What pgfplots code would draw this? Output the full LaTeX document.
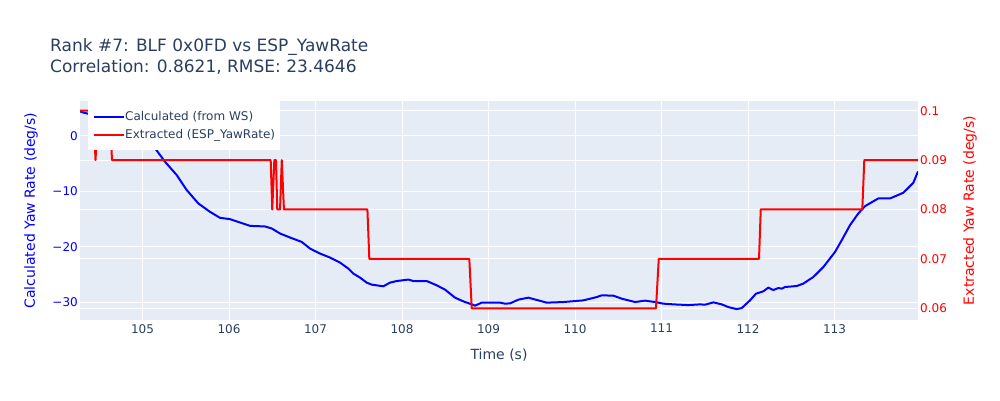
\documentclass[border=0pt]{standalone}
\usepackage{fontspec}
\setmainfont{DejaVu Sans}
\usepackage{xcolor}
\usepackage{pgfplots}
\pgfplotsset{compat=1.18}

\definecolor{textgray}{HTML}{2A3F5F}
\definecolor{plotbg}{HTML}{E5ECF6}

\pgfplotsset{
  base/.style={
    at={(0pt,0pt)}, anchor=south west,
    scale only axis, width=838pt, height=219pt,
    xmin=104.2775, xmax=113.965,
    axis line style={draw=none},
    major tick length=0pt,
    /pgf/number format/assume math mode=true,
    tick label style={font=\fontsize{12}{14}\selectfont},
    clip=true,
  },
  rightax/.style={ymin=0.05763, ymax=0.10196},
  leftax/.style={ymin=-33.2, ymax=6.3},
}

\begin{document}
\begin{tikzpicture}
\path[use as bounding box] (-80pt,-80pt) rectangle (920pt,320pt);

% axis 1: background, x grid, right y grid and labels
\begin{axis}[base, rightax,
  axis background/.style={fill=plotbg},
  xtick={105,106,...,113},
  xticklabel style={text=textgray, inner sep=0pt, anchor=north, yshift=-4pt},
  xlabel={Time (s)},
  every axis x label/.style={at={(axis description cs:0.5,-0.16)}, anchor=center,
    font=\fontsize{14}{16}\selectfont, text=textgray},
  axis y line*=right,
  ytick={0.06,0.07,0.08,0.09,0.1},
  yticklabels={0.06,0.07,0.08,0.09,0.1},
  yticklabel style={text=red, inner sep=0pt, anchor=west, xshift=2pt},
  ylabel={Extracted Yaw Rate (deg/s)},
  every axis y label/.style={at={(axis description cs:1.062,0.5)}, rotate=90, anchor=center,
    font=\fontsize{14}{16}\selectfont, text=red},
  grid=major,
  major grid style={white, line width=1pt},
]
\addplot[draw=none] coordinates {(105,0.08)};
\end{axis}

% axis 2: left y grid, labels and calculated series
\begin{axis}[base, leftax,
  xtick={105,106,...,113}, xticklabels={},
  axis y line*=left,
  ytick={-30,-20,-10,0},
  yticklabels={−30,−20,−10,0},
  yticklabel style={text=blue, inner sep=0pt, anchor=east, xshift=-2pt},
  ylabel={Calculated Yaw Rate (deg/s)},
  every axis y label/.style={at={(axis description cs:-0.0585,0.5)}, rotate=90, anchor=center,
    font=\fontsize{14}{16}\selectfont, text=blue},
  ymajorgrids,
  major grid style={white, line width=1pt},
  extra y ticks={0}, extra y tick labels={},
  extra y tick style={grid style={white, line width=2pt}},
]
\addplot[blue, line width=2pt, line join=round] coordinates {
  (104.277,4.43) (104.32,4.2) (104.4,3.9) (104.55,3.2) (104.7,2.2)
  (104.85,1.0) (105.0,-0.4) (105.145,-2.22) (105.260,-4.65) (105.395,-7.05)
  (105.511,-9.76) (105.645,-12.17) (105.780,-13.69) (105.896,-14.77) (106.012,-15.01)
  (106.127,-15.61) (106.243,-16.22) (106.416,-16.33) (106.494,-16.69) (106.590,-17.60)
  (106.705,-18.32) (106.840,-19.11) (106.936,-20.31) (107.052,-21.21) (107.168,-21.94)
  (107.283,-22.84) (107.379,-23.92) (107.437,-24.83) (107.514,-25.55) (107.592,-26.46)
  (107.650,-26.82) (107.784,-27.12) (107.861,-26.46) (107.939,-26.17) (108.073,-25.91)
  (108.131,-26.17) (108.286,-26.17) (108.401,-26.94) (108.497,-27.72) (108.613,-29.17)
  (108.709,-29.84) (108.806,-30.38) (108.844,-30.61) (108.921,-30.07) (109.133,-30.07)
  (109.191,-30.25) (109.249,-30.20) (109.345,-29.53) (109.460,-29.17) (109.576,-29.66)
  (109.673,-30.07) (109.865,-29.96) (110.096,-29.66) (110.251,-29.06) (110.309,-28.75)
  (110.443,-28.81) (110.540,-29.35) (110.694,-29.96) (110.809,-29.71) (110.925,-29.96)
  (111.021,-30.25) (111.137,-30.38) (111.310,-30.51) (111.445,-30.38) (111.503,-30.44)
  (111.599,-30.02) (111.696,-30.38) (111.772,-30.87) (111.869,-31.23) (111.927,-31.05)
  (112.023,-29.66) (112.092,-28.45) (112.177,-28.03) (112.234,-27.36) (112.292,-27.79)
  (112.350,-27.43) (112.390,-27.54) (112.428,-27.25) (112.563,-27.07) (112.639,-26.64)
  (112.755,-25.44) (112.871,-23.64) (113.006,-20.92) (113.083,-18.81) (113.179,-16.09)
  (113.275,-13.98) (113.353,-12.66) (113.506,-11.27) (113.642,-11.27) (113.795,-10.25)
  (113.911,-8.45) (113.965,-6.4)
};
\end{axis}

% axis 3: extracted series and legend
\begin{axis}[base, rightax, hide axis,
  legend style={at={(axis description cs:0.0095,1)}, anchor=north west,
    draw=none, fill=white, inner xsep=5pt, inner ysep=6pt,
    font=\fontsize{12}{14}\selectfont, text=textgray,
    nodes={inner xsep=0pt, inner ysep=4pt, anchor=west},
    /tikz/every even column/.style={column sep=5pt}},
  legend cell align=left,
  legend image code/.code={\draw[#1] (0pt,0pt) -- (30pt,0pt);},
]
\addlegendimage{blue, line width=2pt}
\addlegendentry{Calculated (from WS)}
\addplot[red, line width=2pt, line join=round] coordinates {
  (104.277,0.1) (104.43,0.1) (104.457,0.09) (104.486,0.1) (104.624,0.1)
  (104.647,0.09) (106.482,0.09) (106.50,0.08) (106.524,0.09) (106.543,0.09)
  (106.558,0.08) (106.59,0.08) (106.61,0.09) (106.635,0.08) (107.60,0.08)
  (107.622,0.07) (108.778,0.07) (108.806,0.06) (110.936,0.06) (110.968,0.07)
  (112.127,0.07) (112.147,0.08) (113.321,0.08) (113.344,0.09) (113.965,0.09)
};
\addlegendentry{Extracted (ESP\_YawRate)}
\end{axis}

\node[anchor=base west, font=\fontsize{17}{20}\selectfont, text=textgray, inner sep=0pt]
  at (-30pt,269pt) {Rank \#7: BLF 0x0FD vs ESP\_YawRate};
\node[anchor=base west, font=\fontsize{17}{20}\selectfont, text=textgray, inner sep=0pt]
  at (-30pt,248pt) {Correlation: 0.8621, RMSE: 23.4646};
\end{tikzpicture}
\end{document}
